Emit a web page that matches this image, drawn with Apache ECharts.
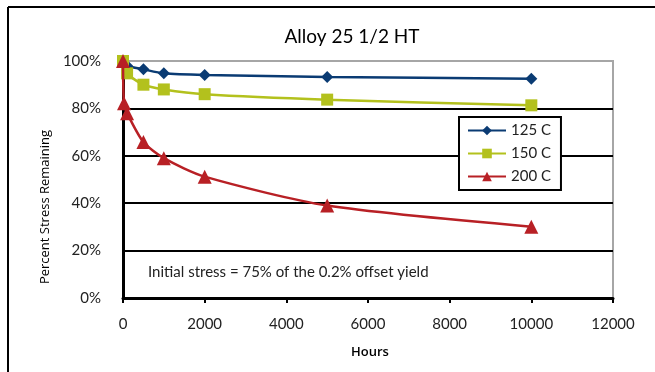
<!DOCTYPE html>
<html><head><meta charset="utf-8">
<script src="https://cdn.jsdelivr.net/npm/echarts@6/dist/echarts.min.js"></script>
<style>html,body{margin:0;padding:0;background:#fff}#c{width:655px;height:372px}</style>
</head><body><div id="c"></div>
<script>
const title = 'Alloy 25 1/2 HT';
const xTitle = 'Hours';
const yTitle = 'Percent Stress Remaining';
const note = 'Initial stress = 75% of the 0.2% offset yield';
const seriesNames = ['125 C', '150 C', '200 C'];
const hours125 = [0, 100, 500, 1000, 2000, 5000, 10000];
const pct125 = [100, 98, 96.5, 94.8, 94.1, 93.3, 92.5];
const hours150 = [0, 100, 500, 1000, 2000, 5000, 10000];
const pct150 = [100, 94.8, 90, 88, 86, 83.7, 81.3];
const hours200 = [0, 24, 100, 500, 1000, 2000, 5000, 10000];
const pct200 = [100, 82.2, 78, 65.8, 59, 51.2, 39, 30.1];
const colors = ['#0a3b73', '#b3c11d', '#b82025'];
const symbols = ['diamond', 'rect', 'triangle'];
const symSizes = [12, 12, 14];

const font = 'Lato, "Open Sans", sans-serif';
const pairs = (xs, ys) => xs.map((x, i) => [x, ys[i]]);
const dataSets = [pairs(hours125, pct125), pairs(hours150, pct150), pairs(hours200, pct200)];

const chart = echarts.init(document.getElementById('c'));
chart.setOption({
  animation: false,
  backgroundColor: '#fff',
  title: {
    text: title, left: 347, top: 22, textAlign: 'center',
    textStyle: { fontFamily: font, fontSize: 19, fontWeight: 'normal', color: '#000' }
  },
  grid: { left: 123, right: 42, top: 61, bottom: 74, show: true, borderColor: '#a6a6a6', borderWidth: 2, backgroundColor: '#fff' },
  legend: {
    orient: 'vertical', left: 459, top: 117,
    data: seriesNames,
    backgroundColor: '#fff', borderColor: '#000', borderWidth: 2,
    padding: [6, 10, 6, 8], itemGap: 8, itemWidth: 38, itemHeight: 12,
    textStyle: { fontFamily: font, fontSize: 15, color: '#222' }
  },
  xAxis: {
    type: 'value', min: 0, max: 12000, interval: 2000,
    axisLine: { show: true, onZero: false, lineStyle: { color: '#000', width: 3 } },
    axisTick: { show: true, length: 5, lineStyle: { color: '#000', width: 2 } },
    axisLabel: { fontFamily: font, fontSize: 15, color: '#222', margin: 19, formatter: v => String(v) },
    splitLine: { show: false }
  },
  yAxis: {
    type: 'value', min: 0, max: 100, interval: 20,
    axisLine: { show: true, lineStyle: { color: '#000', width: 3 } },
    axisTick: { show: false },
    axisLabel: { fontFamily: font, fontSize: 15, color: '#222', margin: 22, formatter: '{value}%' },
    splitLine: { show: true, lineStyle: { color: ['#000', '#000', '#000', '#000', '#000', '#a6a6a6'], width: 2 } }
  },
  graphic: [
    { type: 'line', shape: { x1: 8, y1: 7, x2: 655, y2: 7 }, style: { stroke: '#000', lineWidth: 2 }, z: 100 },
    { type: 'line', shape: { x1: 8, y1: 7, x2: 8, y2: 372 }, style: { stroke: '#000', lineWidth: 2 }, z: 100 },
    { type: 'text', left: 148, top: 265, style: { text: note, fontFamily: font, fontSize: 15, fill: '#222' }, z: 100 },
    { type: 'text', x: 370, y: 352, style: { text: xTitle, fontFamily: '"Open Sans", sans-serif', fontSize: 13, fontWeight: 600, fill: '#000', align: 'center', verticalAlign: 'middle' }, z: 100 },
    { type: 'text', x: 45, y: 207, rotation: Math.PI / 2, style: { text: yTitle, fontFamily: '"Open Sans", sans-serif', fontSize: 13, fill: '#000', align: 'center', verticalAlign: 'middle' }, z: 100 }
  ],
  series: seriesNames.map((n, i) => ({
    name: n, type: 'line', data: dataSets[i],
    smooth: 0.25,
    symbol: symbols[i], symbolSize: symSizes[i],
    itemStyle: { color: colors[i] },
    lineStyle: { color: colors[i], width: 2.5 },
    z: 3 + i
  }))
});
</script></body></html>
